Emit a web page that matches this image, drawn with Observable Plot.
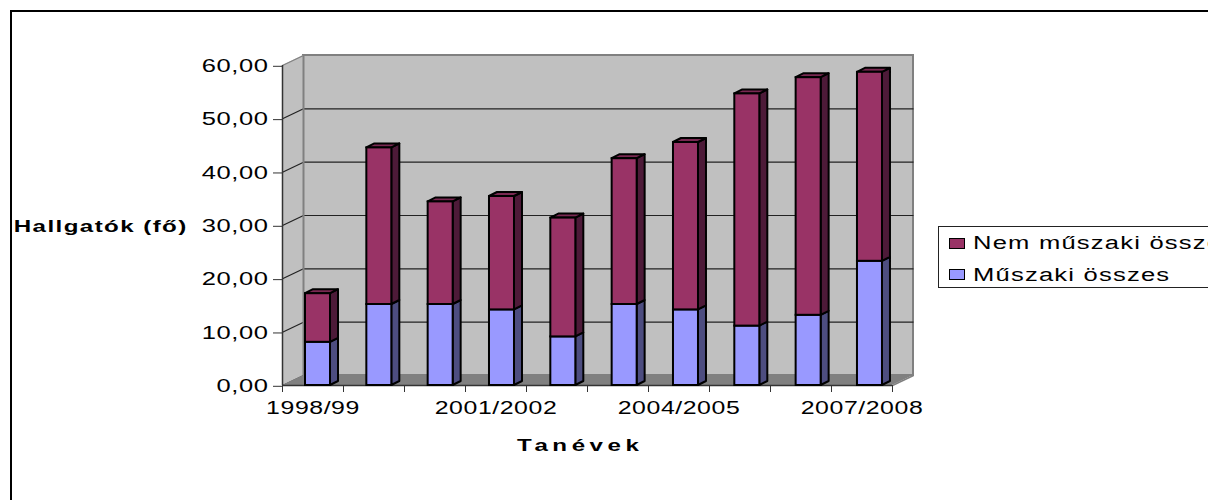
<!DOCTYPE html>
<html><head><meta charset="utf-8">
<script src="https://cdn.jsdelivr.net/npm/d3@7"></script>
<script src="https://cdn.jsdelivr.net/npm/@observablehq/plot@0.6"></script>
<style>
html,body{margin:0;padding:0;background:#fff;width:1208px;height:500px;overflow:hidden}
#wrap{position:relative;width:1208px;height:500px;overflow:hidden}
#frame{position:absolute;left:10px;top:10px;width:1400px;height:700px;border:2px solid #000;box-sizing:border-box}
#chart{position:absolute;left:0;top:0}
#legend{position:absolute;left:938px;top:226px;width:400px;height:62px;border:1px solid #222;box-sizing:border-box;background:#fff;font:18px "Liberation Sans",Arial,sans-serif;color:#000}
#legend .sw{position:absolute;left:10px;width:16px;height:11px;border:1.5px solid #000;box-sizing:border-box}
#legend .tx{position:absolute;left:34px;white-space:nowrap;transform-origin:0 50%;transform:scaleX(1.42);letter-spacing:.85px;line-height:20px}
</style></head>
<body><div id="wrap"><div id="frame"></div><div id="chart"></div><div id="legend"></div></div>
<script>
const tickLabels = ["1998/99","2001/2002","2004/2005","2007/2008"];
const tickIndex = [0,3,6,9];
const musz = [8,15,15,14,9,15,14,11,13,23];
const nem  = [9,29,19,21,22,27,31,43,44,35];
const seriesNames = ["Nem műszaki összes","Műszaki összes"];
const colors = {nem:"#993366",nemSide:"#4d1a38",nemTop:"#7a2952",musz:"#9999ff",muszSide:"#4d4d80"};
const yTicks = [0,10,20,30,40,50,60];

const D = 21/61, E = 10/(320/60);      // depth of the plot box, in scale units
const d = 8/61, e = 4/(320/60);        // depth of a bar
const off = 23/61, w = 25/61;          // bar placement within its category
const persp = 1.0125, stepK = 61.33/61; // bars stand nearer the viewer than the axis plane

const wallBack = [{x1:D,x2:10+D,y1:E,y2:60+E}];
const wallLeft = [{x:0,y1:0,y2:60},{x:D,y1:E,y2:60+E}];
const floor = [{x:0,y1:0,y2:0},{x:D,y1:0,y2:E},{x:10,y1:0,y2:E},{x:10+D,y1:E,y2:E}];

const rects=[], sides=[], tops=[];
musz.forEach((m,i)=>{
  const n=nem[i], x1=i*stepK+off, x2=x1+w;
  [[0,m*persp,colors.musz,colors.muszSide,"m"+i],[m*persp,(m+n)*persp,colors.nem,colors.nemSide,"n"+i]].forEach(([a,b,f,s,z])=>{
    rects.push({x1,x2,y1:a,y2:b,f});
    sides.push({z,s,x:x2,y1:a,y2:b},{z,s,x:x2+d,y1:a+e,y2:b+e});
  });
  const t=(m+n)*persp;
  tops.push({z:i,x:x1,y1:t,y2:t},{z:i,x:x1+d,y1:t,y2:t+e},{z:i,x:x2,y1:t,y2:t+e},{z:i,x:x2+d,y1:t+e,y2:t+e});
});
const grey="#808080", wall="#c0c0c0";
const plot = Plot.plot({
  width:1208,height:500,marginLeft:282,marginRight:316,marginTop:65,marginBottom:115,
  x:{type:"linear",domain:[0,10]},
  y:{type:"linear",domain:[0,60]},
  style:{background:"transparent",fontFamily:'"Liberation Sans",Arial,sans-serif',fontSize:"18px",color:"#000",overflow:"visible"},
  marks:[
    Plot.rect(wallBack,{x1:"x1",x2:"x2",y1:"y1",y2:"y2",fill:wall,stroke:grey,strokeWidth:2}),
    Plot.areaY(wallLeft,{x:"x",y1:"y1",y2:"y2",fill:wall,stroke:"none"}),
    Plot.link(yTicks.filter(v=>v>0&&v<60),{x1:D,x2:10+D,y1:v=>v+E,y2:v=>v+E,stroke:"#222",strokeWidth:1.2}),
    Plot.link(yTicks,{x1:0,x2:D,y1:v=>v,y2:v=>v+E,stroke:v=>v==60?grey:"#222",strokeWidth:1.2}),
    Plot.areaY(floor,{x:"x",y1:"y1",y2:"y2",fill:grey,stroke:"none"}),
    Plot.link([0],{x1:D,x2:D,y1:E,y2:60+E,stroke:grey,strokeWidth:2}),
    Plot.link([0],{x1:10,x2:10+D,y1:0,y2:E,stroke:grey,strokeWidth:1.5}),
    Plot.ruleX([0],{y1:0,y2:60,stroke:"#333",strokeWidth:1.5}),
    Plot.ruleY([0],{x1:0,x2:10,stroke:"#333",strokeWidth:1.5}),
    Plot.axisY({ticks:yTicks,tickSize:9,tickPadding:5,dy:0.8,tickFormat:v=>d3.format(".2f")(v).replace(".",","),label:null,stroke:"#333"}),
    Plot.axisX({ticks:d3.range(11),tickSize:7,tickFormat:()=>"",label:null,stroke:"#333"}),
    Plot.text(tickLabels,{x:(t,i)=>tickIndex[i]+.5,y:0,dy:23,textAnchor:"middle",fontSize:17.5}),
    Plot.text(["Tanévek"],{x:4.88,y:0,dy:60,textAnchor:"middle",fontSize:17,fontWeight:"bold"}),
    Plot.text(["Hallgatók (fő)"],{x:-2.98,y:30,dy:1,textAnchor:"middle",fontSize:17,fontWeight:"bold"}),
    Plot.areaY(sides,{x:"x",y1:"y1",y2:"y2",z:"z",fill:"s",stroke:"#000",strokeWidth:2}),
    Plot.areaY(tops,{x:"x",y1:"y1",y2:"y2",z:"z",fill:colors.nemTop,stroke:"#000",strokeWidth:2}),
    Plot.rect(rects,{x1:"x1",x2:"x2",y1:"y1",y2:"y2",fill:"f",stroke:"#000",strokeWidth:2})
  ]
});
// Reference text is horizontally stretched
plot.querySelectorAll("text").forEach(t=>{
  const tr=t.getAttribute("transform")||"";
  t.setAttribute("transform",tr+" scale(1.42,1)");
  const s=t.textContent;
  t.style.letterSpacing = s==="Tanévek" ? "3.2px" : s.startsWith("Hallgat") ? "1px" : ".4px";
});
document.getElementById("chart").appendChild(plot);
const lg=document.getElementById("legend");
[[colors.nem,seriesNames[0],11,9],[colors.musz,seriesNames[1],42,41]].forEach(([c,n,ys,yt])=>{
  const s=document.createElement("div");s.className="sw";s.style.background=c;s.style.top=ys+"px";lg.appendChild(s);
  const t=document.createElement("div");t.className="tx";t.textContent=n;t.style.top=(yt-3)+"px";lg.appendChild(t);
});
</script></body></html>
